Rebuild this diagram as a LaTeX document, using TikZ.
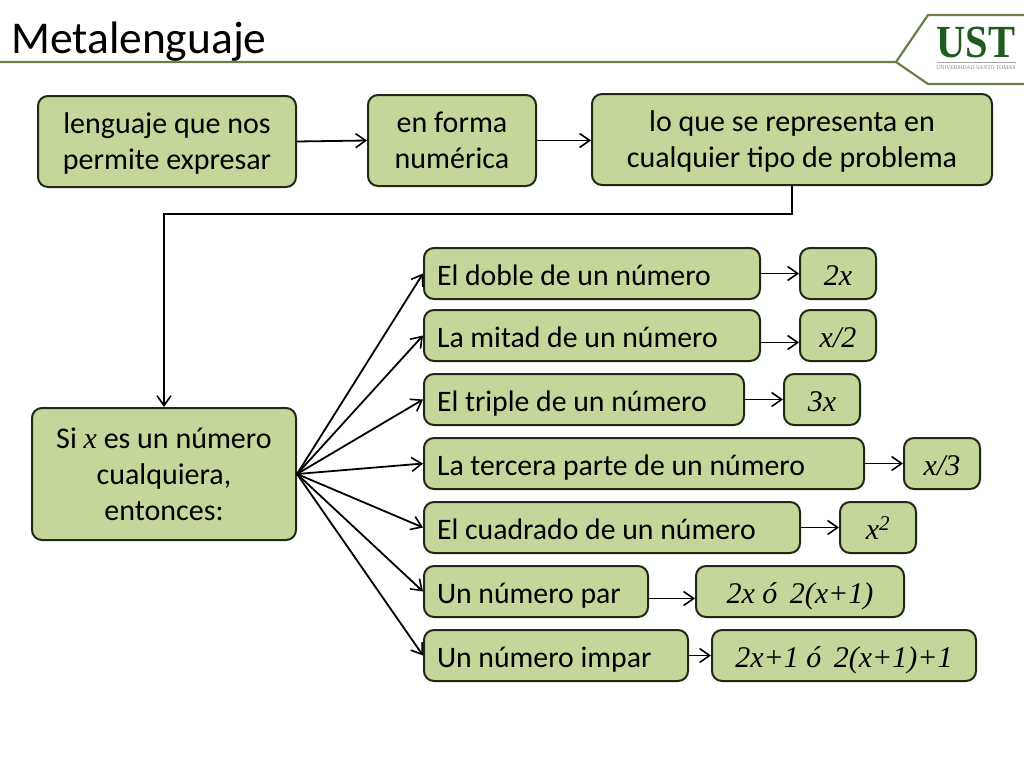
\documentclass[tikz,border=0pt]{standalone}
\usepackage{fontspec}
\setmainfont{Carlito}
\newfontfamily\serifit{Liberation Serif}
\newfontfamily\logofont{Liberation Serif}
\usetikzlibrary{arrows.meta}
\definecolor{boxfill}{HTML}{C5D69B}
\definecolor{boxline}{HTML}{1F2A14}
\definecolor{frameline}{HTML}{6B7F4A}
\definecolor{logogreen}{HTML}{1F5A1F}
\tikzset{
 x=1pt,y=-1pt,
 basebox/.style={draw=boxline,fill=boxfill,line width=2pt,rounded corners=10pt,inner sep=0pt,align=flush center,text=black,font=\fontsize{30}{36}\selectfont},
 oneline/.style={basebox,execute at begin node={\rule{0pt}{30pt}},execute at end node={\rule[-6pt]{0pt}{6pt}}},
 multiline/.style={basebox,execute at begin node={\rule{0pt}{32pt}}},
 textbox/.style={oneline,align=flush left,anchor=west,font=\fontsize{29.75}{36}\selectfont},
 mathbox/.style={oneline,font=\fontsize{30}{32}\serifit\itshape},
 conn/.style={draw=black,line width=1.8pt,-{Straight Barb[length=10pt,width=14pt,line width=1.6pt]}},
 frameedge/.style={draw=frameline,line width=2.2pt},
}
\begin{document}
\begin{tikzpicture}
\useasboundingbox (0,0) rectangle (1024,768);
\fill[white] (0,0) rectangle (1024,768);
% frame
\coordinate (fl) at (0,62); \coordinate (fm) at (896,62);
\coordinate (ft) at (928,15); \coordinate (ftr) at (1024,15);
\coordinate (fb) at (928,84); \coordinate (fbr) at (1024,84);
\draw[frameedge] (fl) -- (fm) -- (ft) -- (ftr);
\draw[frameedge] (fm) -- (fb) -- (fbr);
\node[anchor=west,inner sep=0pt,font=\fontsize{45.5}{46}\selectfont] (title) at (11,42) {Metalenguaje};
% logo
\node[inner sep=0pt,text=logogreen,font=\fontsize{46}{46}\logofont\bfseries,anchor=base] (ust) at (976,57) {\scalebox{0.88}[1]{UST}};
\node[inner sep=0pt,text=gray,font=\fontsize{5.6}{6}\logofont,anchor=base] (ustname) at (976,69) {UNIVERSIDAD SANTO TOMAS};
\coordinate (ula) at (937,62); \coordinate (ulb) at (1016,62);
\draw[draw=gray!70,line width=1pt] (ula) -- (ulb);
% top row
\node[multiline,minimum width=258pt,minimum height=91pt] (a) at (167,141.5) {lenguaje que nos\\\smash{permite expresar}};
\node[multiline,minimum width=168pt,minimum height=91pt] (b) at (452,140.5) {en forma\\numérica};
\node[multiline,minimum width=400pt,minimum height=91pt] (c) at (792,139.5) {lo que se representa en\\\smash{cualquier tipo de problema}};
\node[multiline,minimum width=264pt,minimum height=132pt] (d) at (164,474) {Si {\serifit\itshape x} es un número\\cualquiera,\\entonces:};
% left list
\node[textbox,minimum height=51pt,text width=310pt,minimum width=336pt] (e1) at (423,273.5) {El doble de un número};
\node[textbox,minimum height=51pt,text width=310pt,minimum width=336pt] (e2) at (423,335.5) {La mitad de un número};
\node[textbox,minimum height=51pt,text width=294pt,minimum width=320pt] (e3) at (423,399.5) {El triple de un número};
\node[textbox,minimum height=51pt,text width=414pt,minimum width=440pt] (e4) at (423,463.5) {La tercera parte de un número};
\node[textbox,minimum height=51pt,text width=350pt,minimum width=376pt] (e5) at (423,527.5) {El cuadrado de un número};
\node[textbox,minimum height=51pt,text width=198pt,minimum width=224pt] (e6) at (423,591.5) {Un número par};
\node[textbox,minimum height=51pt,text width=238pt,minimum width=264pt] (e7) at (423,655.5) {Un número impar};
% results
\node[mathbox,minimum width=76pt,minimum height=51pt] (r1) at (838,273.5) {2x};
\node[mathbox,minimum width=76pt,minimum height=51pt] (r2) at (838,335.5) {x/2};
\node[mathbox,minimum width=76pt,minimum height=51pt] (r3) at (822,399.5) {3x};
\node[mathbox,minimum width=76pt,minimum height=51pt] (r4) at (942,463.5) {x/3};
\node[mathbox,minimum width=76pt,minimum height=51pt] (r5) at (878,527.5) {x\textsuperscript{2}};
\node[mathbox,minimum width=208pt,minimum height=51pt] (r6) at (800,591.5) {2x ó\, 2(x+1)};
\node[mathbox,minimum width=264pt,minimum height=51pt] (r7) at (844,655.5) {2x+1 ó\, 2(x+1)+1};
% connectors
\draw[conn] (a.east) -- (b.west);
\draw[conn] (b.east) -- (c.west |- b.east);
\draw[conn] (c.south) |- (164,214) -- (d.north);
\foreach \t in {e1,e2,e3,e4,e5,e6,e7} \draw[conn] (d.east) -- (\t.west);
\draw[conn] (e1.east) -- (r1.west);
\draw[conn] ([yshift=-7pt]e2.east) -- ([yshift=-7pt]r2.west);
\draw[conn] (e3.east) -- (r3.west);
\draw[conn] (e4.east) -- (r4.west);
\draw[conn] (e5.east) -- (r5.west);
\draw[conn] ([yshift=-7pt]e6.east) -- ([yshift=-7pt]r6.west);
\draw[conn] (e7.east) -- (r7.west);
\end{tikzpicture}
\end{document}
